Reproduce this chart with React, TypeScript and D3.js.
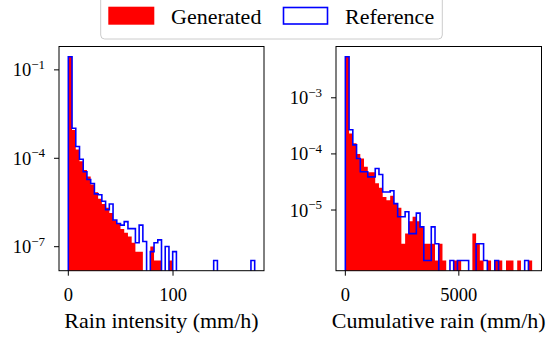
import React from "react";
import * as d3 from "d3";

// ---------- data ----------
const legendLabels = ["Generated", "Reference"];
const xLabels = ["Rain intensity (mm/h)", "Cumulative rain (mm/h)"];

// Left panel: rain intensity, 50 equal bins over [0, intensityMax]
const intensityMax = 178;
const intensityGenerated = [
  2.8e-1, 9.1e-4, 2.0e-4, 7.9e-5, 4.0e-5, 2.4e-5, 1.3e-5, 7.1e-6, 4.2e-6, 2.8e-6,
  2.1e-6, 1.4e-6, 7.9e-7, 6.0e-7, 4.0e-7, 3.0e-7, 2.2e-7, 1.36e-7, 6.8e-8, 6.8e-8,
  0, 0, 1.02e-7, 3.4e-8, 3.4e-8, 0, 0, 3.4e-8, 0, 0,
  0, 0, 0, 0, 0, 0, 0, 0, 0, 0,
  0, 0, 0, 0, 0, 0, 0, 0, 0, 0,
];
const intensityReference = [
  2.8e-1, 1.05e-3, 2.5e-4, 9.3e-5, 3.5e-5, 1.9e-5, 1.4e-5, 6.2e-6, 5.8e-6, 3.5e-6,
  1.8e-6, 2.8e-6, 8.1e-7, 6.1e-7, 5.4e-7, 7.1e-7, 4.1e-7, 4.1e-7, 1.36e-7, 5.4e-7,
  1.5e-7, 0, 6.8e-8, 1.36e-7, 1.7e-7, 0, 1.02e-7, 0, 6.8e-8, 0,
  0, 0, 0, 0, 0, 0, 0, 0, 0, 3.4e-8,
  0, 0, 0, 0, 0, 0, 0, 0, 0, 3.4e-8,
];

// Right panel: cumulative rain, 50 equal bins over [0, cumulativeMax]
const cumulativeMax = 8230;
const cumulativeGenerated = [
  5.4e-3, 2.3e-4, 1.55e-4, 1.0e-4, 8.3e-5, 5.9e-5, 4.7e-5, 4.7e-5, 3.0e-5, 2.5e-5,
  1.7e-5, 1.5e-5, 1.8e-5, 1.3e-5, 1.1e-5, 2.5e-6, 3.8e-6, 6.3e-6, 7.6e-6, 6.3e-6,
  5.0e-6, 2.5e-6, 2.5e-6, 2.5e-6, 1.26e-6, 2.5e-6, 1.26e-6, 0, 0, 1.26e-6,
  1.26e-6, 0, 0, 0, 3.8e-6, 2.5e-6, 1.26e-6, 0, 1.26e-6, 0,
  1.26e-6, 1.26e-6, 0, 1.26e-6, 1.26e-6, 0, 1.26e-6, 0, 0, 1.26e-6,
];
const cumulativeReference = [
  5.4e-3, 2.7e-4, 1.45e-4, 8.3e-5, 4.8e-5, 4.8e-5, 3.9e-5, 3.9e-5, 5.5e-5, 4.3e-5,
  2.1e-5, 2.1e-5, 2.2e-5, 1.3e-5, 7.6e-6, 7.6e-6, 9.3e-6, 3.8e-6, 3.8e-6, 8.8e-6,
  5.0e-6, 1.26e-6, 1.26e-6, 5.0e-6, 2.5e-6, 0, 0, 0, 1.26e-6, 0,
  1.26e-6, 1.26e-6, 1.26e-6, 0, 0, 2.5e-6, 2.5e-6, 1.26e-6, 0, 0,
  1.26e-6, 0, 0, 0, 0, 0, 0, 0, 1.26e-6, 0,
];

const intensityXTicks = [0, 100];
const cumulativeXTicks = [0, 5000];
const intensityYTickExp = [-1, -4, -7];
const cumulativeYTickExp = [-3, -4, -5];

// ---------- styling ----------
const FONT = `"Liberation Serif", monospace`;
const RED = "#ff0000";
const BLUE = "#0000ff";
const TICK_FS = 18.5;
const LABEL_FS = 22;

type PanelProps = {
  left: number;
  right: number;
  top: number;
  bottom: number;
  maxX: number;
  generated: number[];
  reference: number[];
  xTicks: number[];
  yTickExp: number[];
  xLabel: string;
  id: string;
};

function Panel(p: PanelProps) {
  const n = p.generated.length;
  const edges = d3.range(n + 1).map((i) => (i * p.maxX) / n);
  const x = d3
    .scaleLinear()
    .domain([-0.05 * p.maxX, 1.05 * p.maxX])
    .range([p.left, p.right]);
  const all = [...p.generated, ...p.reference].filter((v) => v > 0);
  const lmin = Math.log10(d3.min(all) as number);
  const lmax = Math.log10(d3.max(all) as number);
  const span = lmax - lmin;
  const y = d3
    .scaleLog()
    .domain([Math.pow(10, lmin - 0.05 * span), Math.pow(10, lmax + 0.05 * span)])
    .range([p.bottom, p.top]);

  let redPath = "";
  p.generated.forEach((v, i) => {
    if (v <= 0) return;
    const x0 = x(edges[i]);
    const x1 = x(edges[i + 1]);
    const yt = y(v);
    redPath += `M${x0},${p.bottom + 2}L${x0},${yt}L${x1},${yt}L${x1},${p.bottom + 2}Z`;
  });

  const yb = p.bottom + 2;
  let bluePath = `M${x(edges[0])},${yb}`;
  p.reference.forEach((v, i) => {
    const yy = v > 0 ? y(v) : yb;
    bluePath += `L${x(edges[i])},${yy}L${x(edges[i + 1])},${yy}`;
  });
  bluePath += `L${x(edges[n])},${yb}`;

  const clipId = `clip-${p.id}`;
  const tickLen = 5;

  return (
    <g>
      <defs>
        <clipPath id={clipId}>
          <rect x={p.left} y={p.top} width={p.right - p.left} height={p.bottom - p.top} />
        </clipPath>
      </defs>
      <g clipPath={`url(#${clipId})`}>
        <path d={redPath} fill={RED} stroke="none" />
        <path d={bluePath} fill="none" stroke={BLUE} strokeWidth={1.6} strokeLinejoin="miter" />
      </g>
      <rect
        x={p.left}
        y={p.top}
        width={p.right - p.left}
        height={p.bottom - p.top}
        fill="none"
        stroke="#000"
        strokeWidth={1}
      />
      {p.xTicks.map((t) => (
        <g key={`x${t}`}>
          <line x1={x(t)} x2={x(t)} y1={p.bottom} y2={p.bottom + tickLen} stroke="#000" strokeWidth={1} />
          <text
            x={x(t)}
            y={p.bottom + 30}
            textAnchor="middle"
            style={{ fontFamily: FONT, fontSize: TICK_FS }}
            fill="#000"
          >
            {d3.format("d")(t)}
          </text>
        </g>
      ))}
      {p.yTickExp.map((e) => {
        const yy = y(Math.pow(10, e));
        return (
          <g key={`y${e}`}>
            <line x1={p.left - tickLen} x2={p.left} y1={yy} y2={yy} stroke="#000" strokeWidth={1} />
            <text
              x={p.left - tickLen - 9}
              y={yy + 6.5}
              textAnchor="end"
              style={{ fontFamily: FONT, fontSize: TICK_FS }}
              fill="#000"
            >
              <tspan>10</tspan>
              <tspan dy={-7.5} style={{ fontFamily: FONT, fontSize: 13 }}>
                {"\u2212" + Math.abs(e)}
              </tspan>
            </text>
          </g>
        );
      })}
      <text
        x={(p.left + p.right) / 2}
        y={p.bottom + 57}
        textAnchor="middle"
        style={{ fontFamily: FONT, fontSize: LABEL_FS }}
        fill="#000"
      >
        {p.xLabel}
      </text>
    </g>
  );
}

export default function App() {
  return (
    <svg
      width={551}
      height={339}
      style={{ position: "absolute", left: 0, top: 0, background: "#fff", fontFamily: FONT }}
    >
      <rect x={0} y={0} width={551} height={339} fill="#fff" />
      <Panel
        id="a"
        left={59}
        right={264}
        top={46.5}
        bottom={270.7}
        maxX={intensityMax}
        generated={intensityGenerated}
        reference={intensityReference}
        xTicks={intensityXTicks}
        yTickExp={intensityYTickExp}
        xLabel={xLabels[0]}
      />
      <Panel
        id="b"
        left={336}
        right={541.5}
        top={46.5}
        bottom={270.7}
        maxX={cumulativeMax}
        generated={cumulativeGenerated}
        reference={cumulativeReference}
        xTicks={cumulativeXTicks}
        yTickExp={cumulativeYTickExp}
        xLabel={xLabels[1]}
      />
      <g>
        <rect
          x={100.7}
          y={-4}
          width={341.6}
          height={43}
          rx={4}
          fill="#fff"
          fillOpacity={0.8}
          stroke="#cccccc"
          strokeWidth={1}
        />
        <rect x={108.3} y={6.7} width={46} height={18} fill={RED} />
        <text x={171} y={23.5} style={{ fontFamily: FONT, fontSize: LABEL_FS }} fill="#000">
          {legendLabels[0]}
        </text>
        <rect x={283.5} y={7.5} width={44} height={16.5} fill="#fff" stroke={BLUE} strokeWidth={1.6} />
        <text x={345} y={23.5} style={{ fontFamily: FONT, fontSize: LABEL_FS }} fill="#000">
          {legendLabels[1]}
        </text>
      </g>
    </svg>
  );
}
